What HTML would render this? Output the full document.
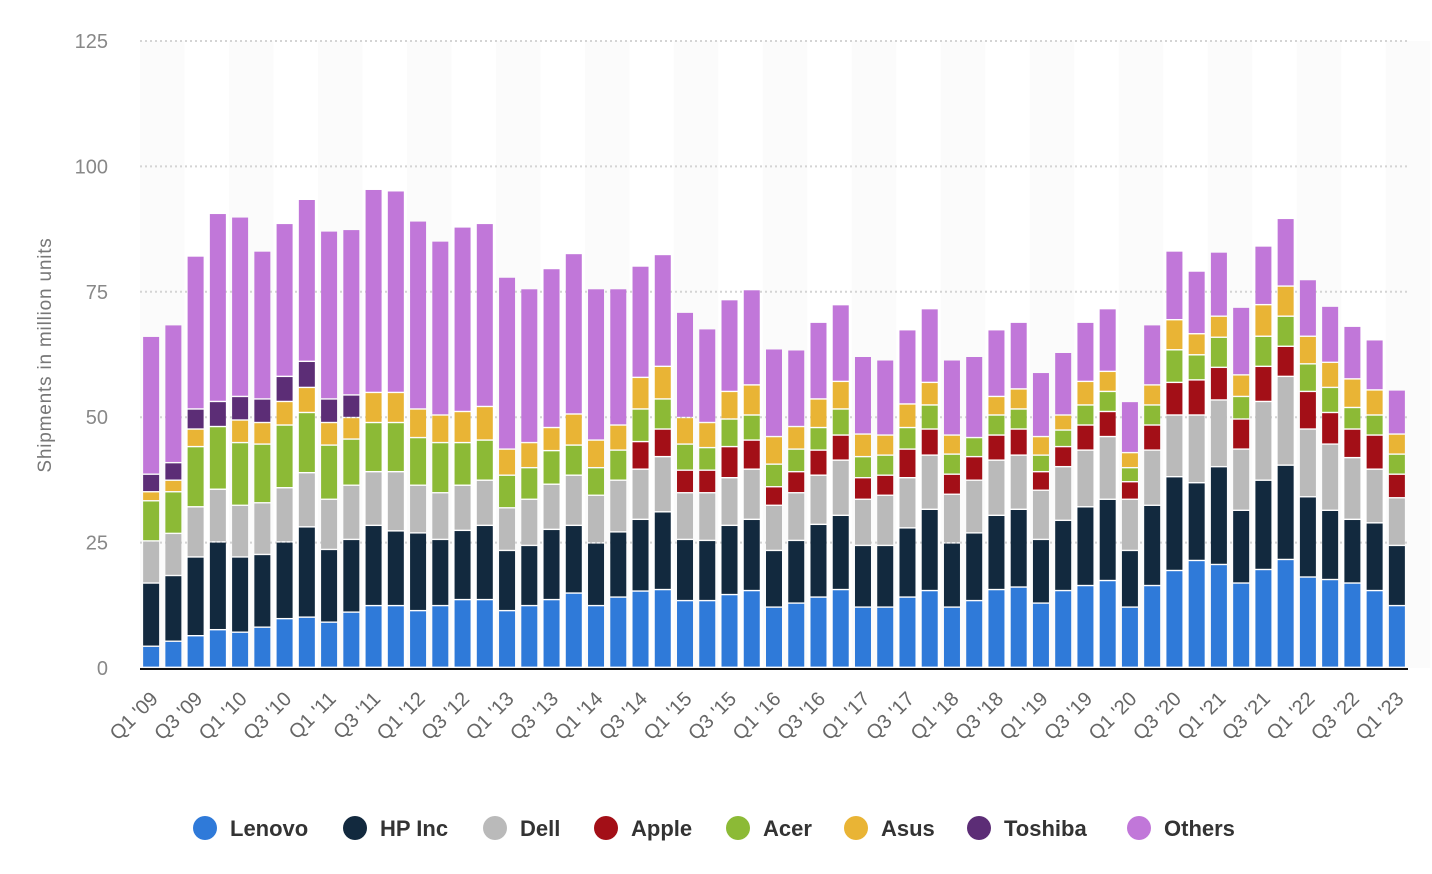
<!DOCTYPE html>
<html><head><meta charset="utf-8">
<style>
html,body{margin:0;padding:0;background:#fff;}
svg{display:block;font-family:"Liberation Sans",sans-serif;}
</style></head>
<body>
<svg id="chart" width="1432" height="874" viewBox="0 0 1432 874" xmlns="http://www.w3.org/2000/svg">
<g id="bg"></g><g id="grid"></g><g id="bars"></g><g id="xlabels"></g><g id="ylabels"></g>
<text transform="translate(51,355) rotate(-90)" text-anchor="middle" font-size="19" letter-spacing="0.8" fill="#777">Shipments in million units</text>
<line x1="140" x2="1408" y1="669" y2="669" stroke="#111" stroke-width="2"/>
<g id="legend"></g>
</svg>
<script>
const quarters = [];
for (let y = 9; y <= 23; y++) for (let q = 1; q <= 4; q++) { if (y === 23 && q > 1) break; quarters.push('Q' + q + " '" + String(y).padStart(2, '0')); }
const seriesNames = ["Lenovo","HP Inc","Dell","Apple","Acer","Asus","Toshiba","Others"];
const seriesColors = ["#2f7ad9","#12293e","#bababa","#a30f17","#8cba36","#e9b435","#5c2d76","#c177d9"];
const lenovo = [4.2,5.2,6.3,7.5,7,8,9.7,10,9,11,12.3,12.3,11.3,12.3,13.5,13.5,11.3,12.3,13.5,14.8,12.3,14,15.2,15.5,13.3,13.3,14.5,15.3,12,12.8,14,15.5,12,12,14,15.3,12,13.3,15.5,16,12.8,15.3,16.3,17.3,12,16.3,19.3,21.3,20.5,16.8,19.5,21.5,18,17.5,16.8,15.3,12.3];
const hp = [12.6,13.1,15.7,17.5,15,14.5,15.3,18,14.5,14.5,16,14.9,15.5,13.2,13.8,14.8,12,12,14,13.5,12.5,13,14.3,15.5,12.2,12,13.8,14.2,11.3,12.5,14.5,14.8,12.3,12.3,13.8,16.2,12.8,13.5,14.8,15.5,12.7,14,15.7,16.2,11.3,16,18.7,15.5,19.5,14.5,17.8,18.8,16,13.8,12.7,13.5,12];
const dell = [8.4,8.4,10,10.5,10.3,10.3,10.8,10.8,10,10.8,10.7,11.8,9.5,9.3,9,9,8.5,9.2,9,10,9.5,10.3,10,11,9.3,9.5,9.5,10,9,9.5,9.8,11,9.2,10,10,10.8,9.7,10.5,11,10.8,9.8,10.7,11.3,12.5,10.2,11,12.3,13.5,13.3,12.2,15.7,17.7,13.5,13.2,12.3,10.7,9.5];
const apple = [0,0,0,0,0,0,0,0,0,0,0,0,0,0,0,0,0,0,0,0,0,0,5.5,5.5,4.5,4.5,6.2,5.8,3.7,4.2,5,5,4.3,4,5.7,5.2,4,4.7,5,5.2,3.7,4,5,5,3.5,5,6.5,7,6.5,6,7,6,7.5,6.3,5.7,6.8,4.7];
const acer = [8,8.3,12,12.5,12.5,11.7,12.5,12,10.8,9.2,9.8,9.8,9.5,10,8.5,8,6.5,6.3,6.7,6,5.5,6,6.5,6,5.2,4.5,5.5,5,4.5,4.5,4.5,5.2,4.2,4,4.3,4.8,4,3.8,4,4,3.3,3.3,4,4,2.8,4,6.5,5,6,4.5,6,6,5.5,5,4.3,4,4];
const asus = [1.8,2.3,3.5,0,4.5,4.3,4.7,5,4.5,4.3,6,6,5.7,5.5,6.2,6.7,5.2,5,4.6,6.2,5.5,5,6.3,6.5,5.3,5,5.5,6,5.5,4.5,5.7,5.5,4.5,4,4.7,4.5,3.8,0,3.7,4,3.7,3,4.7,4,3,4,6,4.2,4.2,4.3,6.3,6,5.5,5,5.7,5,4];
const toshiba = [3.5,3.5,4,5,4.7,4.7,5,5.2,4.7,4.5,0,0,0,0,0,0,0,0,0,0,0,0,0,0,0,0,0,0,0,0,0,0,0,0,0,0,0,0,0,0,0,0,0,0,0,0,0,0,0,0,0,0,0,0,0,0,0];
const others = [27.5,27.5,30.5,37.5,35.8,29.5,30.5,32.3,33.5,33,40.5,40.2,37.5,34.7,36.8,36.5,34.3,30.7,31.7,32,30.2,27.2,22.2,22.3,21,18.7,18.3,19,17.5,15.3,15.3,15.3,15.5,15,14.8,14.7,15,16.2,13.3,13.3,12.8,12.5,11.8,12.5,10.2,12,13.7,12.5,12.8,13.5,11.7,13.5,11.3,11.2,10.5,10,8.8];
const yTicks = [0,25,50,75,100,125];

const NS = "http://www.w3.org/2000/svg";
const series = [lenovo,hp,dell,apple,acer,asus,toshiba,others];
const plotL = 140, plotR = 1408, y0 = 668, y125 = 41;
const yScale = v => y0 - (v / 125) * (y0 - y125);
const slot = (plotR - plotL) / quarters.length;
const xCenter = i => plotL + slot * (i + 0.5);
const barW = 16;
function mk(tag, attrs, parent) { const e = document.createElementNS(NS, tag); for (const k in attrs) e.setAttribute(k, attrs[k]); parent.appendChild(e); return e; }

const bg = document.getElementById('bg');
for (let i = 0; i < quarters.length; i += 4) {
  const r = mk('rect', {x: plotL + slot * i, y: y125, width: slot * 2, height: y0 - y125, fill: '#fbfbfb'}, bg);
  
  
}
const grid = document.getElementById('grid'), yl = document.getElementById('ylabels');
yTicks.forEach(t => {
  if (t > 0) {
    const l = mk('line', {x1: plotL, x2: plotR, y1: yScale(t), y2: yScale(t), stroke: '#d4d4d4', 'stroke-width': 2, 'stroke-dasharray': '2,3'}, grid);
    
    
  }
  const tx = mk('text', {x: 108, y: yScale(t) + 7, 'text-anchor': 'end', 'font-size': 20, fill: '#888'}, yl);
  tx.textContent = t;
  
  
});
const bars = document.getElementById('bars');
quarters.forEach((q, i) => {
  let cum = 0;
  series.forEach((s, si) => {
    const v = s[i]; if (!v) return;
    const top = yScale(cum + v), bot = yScale(cum);
    const r = mk('rect', {x: xCenter(i) - barW / 2, y: top, width: barW, height: Math.max(0, bot - top - 1.4), fill: seriesColors[si]}, bars);
    
    
    cum += v;
  });
});
const xl = document.getElementById('xlabels');
quarters.forEach((q, i) => {
  if (i % 2) return;
  const x = xCenter(i) + 8, y = 700;
  const t = mk('text', {x: x, y: y, 'text-anchor': 'end', 'font-size': 20, fill: '#666', transform: 'rotate(-45 ' + x + ' ' + y + ')'}, xl);
  t.textContent = q;
  
  
});
const lg = document.getElementById('legend');
const legX = [205, 355, 495, 606, 738, 856, 979, 1139];
seriesNames.forEach((n, i) => {
  const c = mk('circle', {cx: legX[i], cy: 828, r: 12, fill: seriesColors[i]}, lg);
  
  
  const t = mk('text', {x: legX[i] + 25, y: 836, 'font-size': 22, 'font-weight': 'bold', fill: '#333'}, lg);
  t.textContent = n;
  
  
});
</script>
</body></html>
